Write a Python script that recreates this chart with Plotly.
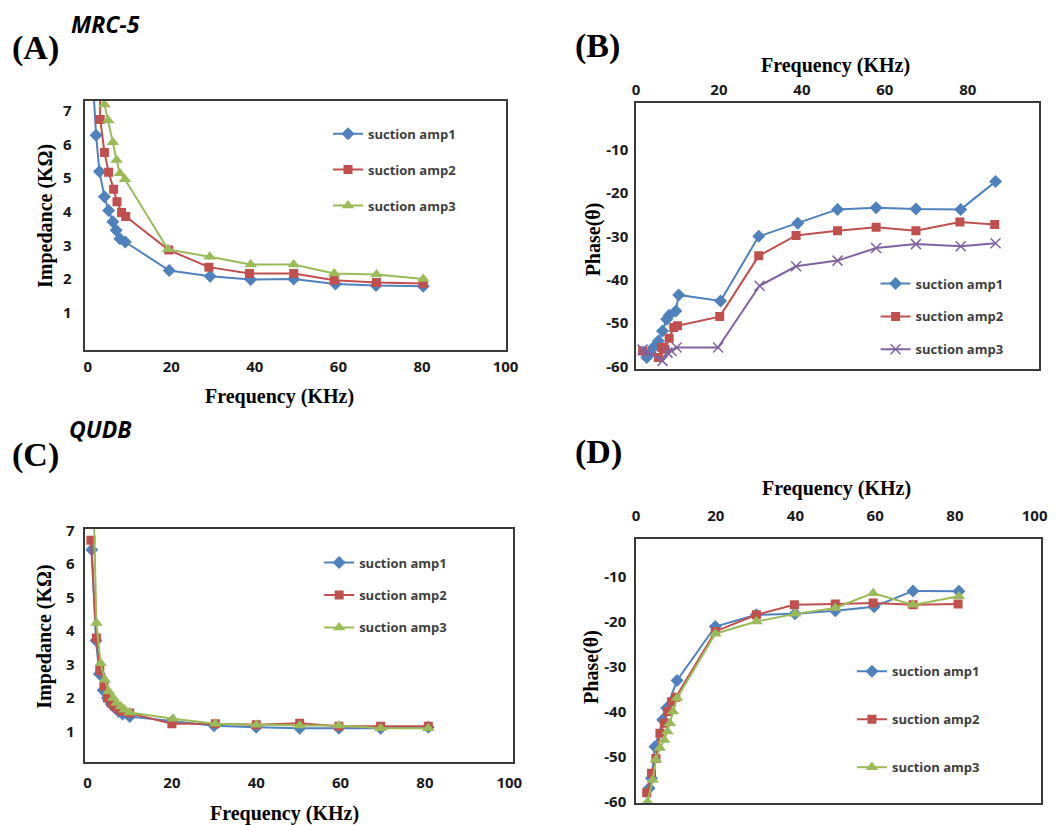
import plotly.graph_objects as go

W, H = 1056, 825
# measured screen = SX*page + CX (horizontal), SY*page + CY (vertical); positions below are
# given in reference-image pixels and converted back to page pixels
SX, CX = 0.988, 2.0
SY, CY = 0.978, 10.1

# ---------------- data ----------------
# (A) MRC-5 impedance
a_freq1 = [1.3, 2, 2.8, 4, 5, 6, 6.8, 7.7, 9, 19.5, 29.3, 39, 49.3, 59.3, 69, 80.3]
a_imp1 = [7.8, 6.28, 5.2, 4.45, 4.04, 3.7, 3.45, 3.2, 3.1, 2.25, 2.08, 1.98, 2.0, 1.85, 1.8, 1.78]
a_freq2 = [2.9, 3.0, 4.0, 5.0, 6.2, 7.0, 8.1, 9.1, 19.4, 29, 38.7, 49.3, 59, 69.1, 80.3]
a_imp2 = [8.0, 6.75, 5.77, 5.18, 4.67, 4.3, 3.98, 3.86, 2.86, 2.35, 2.16, 2.16, 1.96, 1.89, 1.86]
a_freq3 = [4.0, 4.9, 6.0, 6.9, 7.7, 8.9, 19.2, 29.2, 39, 49.3, 59, 69.1, 80.3]
a_imp3 = [7.2, 6.73, 6.07, 5.54, 5.15, 4.97, 2.88, 2.66, 2.43, 2.43, 2.16, 2.13, 2.0]

# (B) MRC-5 phase
b_freq1 = [2.6, 3.4, 4.2, 5.4, 6.4, 7.4, 8.0, 9.6, 10.3, 20.4, 29.6, 39, 48.6, 57.9, 67.5, 78.3, 86.7]
b_ph1 = [-57.9, -56.8, -55.6, -54.1, -51.8, -49.1, -48.2, -47.2, -43.5, -44.9, -30.0, -27.0, -23.8, -23.4, -23.7, -23.8, -17.4]
b_freq2 = [1.6, 5.4, 6.2, 7.0, 8.0, 9.1, 10.0, 20.2, 29.6, 38.6, 48.6, 57.9, 67.5, 78.1, 86.5]
b_ph2 = [-56.4, -57.9, -55.6, -56.0, -53.5, -51.0, -50.6, -48.5, -34.5, -29.8, -28.7, -27.9, -28.7, -26.7, -27.3]
b_freq3 = [1.6, 2.6, 6.4, 7.6, 8.6, 9.8, 19.8, 29.8, 38.6, 48.6, 57.9, 67.5, 78.3, 86.7]
b_ph3 = [-56.1, -56.5, -58.7, -56.8, -56.4, -55.6, -55.6, -41.4, -36.9, -35.6, -32.7, -31.8, -32.3, -31.6]

# (C) QUDB impedance
c_freq1 = [1, 2, 2.8, 3.7, 4.7, 5.6, 6.5, 7.4, 8.3, 10, 20, 30, 40, 50.3, 59.6, 69.5, 80.8]
c_imp1 = [6.43, 3.72, 2.72, 2.23, 2.0, 1.82, 1.7, 1.6, 1.52, 1.45, 1.3, 1.17, 1.13, 1.1, 1.1, 1.1, 1.13]
c_freq2 = [0.8, 2.1, 2.9, 3.9, 4.7, 5.6, 6.5, 7.4, 8.3, 10, 20, 30.3, 40, 50.3, 59.6, 69.5, 80.8]
c_imp2 = [6.71, 3.79, 2.82, 2.35, 2.0, 1.85, 1.75, 1.67, 1.6, 1.55, 1.23, 1.23, 1.2, 1.25, 1.16, 1.16, 1.16]
c_freq3 = [1.5, 2.1, 3.1, 4.1, 5.0, 6.1, 6.9, 7.9, 8.8, 10, 20.3, 30.3, 40, 50.3, 59.6, 69.5, 80.8]
c_imp3 = [7.5, 4.24, 3.04, 2.55, 2.2, 2.0, 1.85, 1.75, 1.65, 1.57, 1.38, 1.23, 1.2, 1.18, 1.18, 1.1, 1.1]

# (D) QUDB phase
d_freq1 = [3.3, 3.9, 4.75, 6.7, 7.7, 10.3, 19.9, 30.2, 39.9, 50, 59.75, 69.5, 81]
d_ph1 = [-57.0, -54.8, -47.8, -41.8, -39.2, -33.1, -21.1, -18.5, -18.3, -17.6, -16.7, -13.2, -13.3]
d_freq2 = [2.7, 3.9, 5.0, 6.0, 7.1, 7.9, 8.9, 10.0, 19.9, 30.2, 39.75, 50, 59.5, 69.5, 80.8]
d_ph2 = [-58.0, -53.7, -50.4, -44.8, -42.6, -40.0, -37.8, -36.8, -22.2, -18.5, -16.3, -16.1, -15.9, -16.3, -16.1]
d_freq3 = [2.9, 4.2, 5.0, 6.0, 7.1, 7.9, 8.5, 9.3, 10.3, 19.9, 30.2, 39.9, 50, 59.5, 69.5, 81]
d_ph3 = [-60.0, -55.2, -50.7, -48.1, -46.3, -44.4, -42.6, -40.0, -37.0, -22.7, -20.0, -18.3, -17.0, -13.7, -16.3, -14.4]

series_names = ["suction amp1", "suction amp2", "suction amp3"]
imp_ticks = [1, 2, 3, 4, 5, 6, 7]
phase_ticks = [-60, -50, -40, -30, -20, -10]
phase_labels = ["-60", "-50", "-40", "-30", "-20", "-10"]
freq_ticks = [0, 20, 40, 60, 80, 100]

BLUE, RED, GREEN, PURPLE = "#4F81BD", "#C0504D", "#9BBB59", "#8064A2"
TICKFONT = dict(family="Open Sans", size=15, color="#1a1a1a", weight="bold")
SERIF = "Liberation Serif"
AXCOL = "#3a3a3a"

fig = go.Figure()


def add(x, y, name, color, symbol, msize, xa, ya, legend, mline=None):
    marker = dict(symbol=symbol, size=msize, color=color)
    if mline:
        marker["line"] = dict(color=color, width=1.5)
    fig.add_trace(go.Scatter(
        x=x, y=y, name=name, mode="lines+markers",
        line=dict(color=color, width=2), marker=marker,
        xaxis=xa, yaxis=ya, legend=legend, legendgroup=legend + name,
    ))


add(a_freq1, a_imp1, series_names[0], BLUE, "diamond", 10, "x", "y", "legend")
add(a_freq2, a_imp2, series_names[1], RED, "square", 9, "x", "y", "legend")
add(a_freq3, a_imp3, series_names[2], GREEN, "triangle-up", 11, "x", "y", "legend")

add(b_freq1, b_ph1, series_names[0], BLUE, "diamond", 10, "x2", "y2", "legend2")
add(b_freq2, b_ph2, series_names[1], RED, "square", 9, "x2", "y2", "legend2")
add(b_freq3, b_ph3, series_names[2], PURPLE, "x-thin", 10, "x2", "y2", "legend2", mline=True)

add(c_freq1, c_imp1, series_names[0], BLUE, "diamond", 10, "x3", "y3", "legend3")
add(c_freq2, c_imp2, series_names[1], RED, "square", 9, "x3", "y3", "legend3")
add(c_freq3, c_imp3, series_names[2], GREEN, "triangle-up", 11, "x3", "y3", "legend3")

add(d_freq1, d_ph1, series_names[0], BLUE, "diamond", 10, "x4", "y4", "legend4")
add(d_freq2, d_ph2, series_names[1], RED, "square", 9, "x4", "y4", "legend4")
add(d_freq3, d_ph3, series_names[2], GREEN, "triangle-up", 11, "x4", "y4", "legend4")


def px_x(p):
    return ((p - CX) / SX) / W


def px_y(p):
    return 1 - ((p - CY) / SY) / H


def xax(dom, rng, side="bottom", anchor="y", standoff=8):
    return dict(domain=[px_x(dom[0]), px_x(dom[1])], range=rng, anchor=anchor, side=side,
                tickvals=freq_ticks, showgrid=False, zeroline=False, ticks="", ticklen=0,
                showline=True, linecolor=AXCOL, linewidth=1.5, mirror=True,
                tickfont=TICKFONT, ticklabelstandoff=standoff)


def yax(dom, rng, ticks, labels=None, anchor="x", standoff=10):
    d = dict(domain=[px_y(dom[1]), px_y(dom[0])], range=rng, anchor=anchor,
             tickvals=ticks, showgrid=False, zeroline=False, ticks="", ticklen=0,
             showline=True, linecolor=AXCOL, linewidth=1.5, mirror=True,
             tickfont=TICKFONT, ticklabelstandoff=standoff)
    if labels:
        d["ticktext"] = labels
    return d


legfont = dict(family="Open Sans", size=13, color="#404040", weight="bold")


def leg(xt, yt, gap):
    # xt, yt: legend top-left in page pixels
    return dict(x=xt / W, y=1 - yt / H, xanchor="left", yanchor="top",
                font=legfont, bgcolor="rgba(0,0,0,0)", tracegroupgap=gap,
                itemwidth=30)


fig.update_layout(
    width=W, height=H, margin=dict(l=0, r=0, t=0, b=0),
    paper_bgcolor="white", plot_bgcolor="white",
    xaxis=xax((83.7, 506), [-0.55, 100.2], anchor="y", standoff=2),
    yaxis=yax((102, 351), [-0.13, 7.3], imp_ticks, anchor="x", standoff=9),
    xaxis2=xax((636, 1040), [0, 97.1], side="top", anchor="y2", standoff=0),
    yaxis2=yax((104, 369.3), [-60.5, 0.7], phase_ticks, phase_labels, anchor="x2", standoff=3),
    xaxis3=xax((83.7, 512.7), [-0.5, 100.9], anchor="y3", standoff=7),
    yaxis3=yax((529.3, 761.7), [0.1, 7.05], imp_ticks, anchor="x3", standoff=6),
    xaxis4=xax((636, 1042.7), [0, 101.7], side="top", anchor="y4", standoff=10),
    yaxis4=yax((539, 803.3), [-60.36, -1.6], phase_ticks, phase_labels, anchor="x4", standoff=5),
    legend=leg(329, 112, 16),
    legend2=leg(885, 265, 13),
    legend3=leg(320, 550, 12.5),
    legend4=leg(861, 661, 28),
)

ann = []


def text(x, y, s, size, family=SERIF, xanchor="center"):
    ann.append(dict(x=px_x(x), y=px_y(y), xref="paper", yref="paper", text=s,
                    showarrow=False, xanchor=xanchor, yanchor="middle",
                    font=dict(family=family, size=size, color="black")))


def vtext(x, y, s, size):
    ann.append(dict(x=px_x(x), y=px_y(y), xref="paper", yref="paper", text=s,
                    showarrow=False, textangle=-90, xanchor="center", yanchor="middle",
                    font=dict(family=SERIF, size=size, color="black")))


# panel labels
text(8, 49, "<b>(A)</b>", 34, xanchor="left")
text(67, 25, "<b><i>MRC-5</i></b>", 23, family="Open Sans", xanchor="left")
text(573, 47, "<b>(B)</b>", 34, xanchor="left")
text(8, 455, "<b>(C)</b>", 34, xanchor="left")
text(65, 430, "<b><i>QUDB</i></b>", 23, family="Open Sans", xanchor="left")
text(573, 452, "<b>(D)</b>", 34, xanchor="left")

# axis titles
text(278, 397, "<b>Frequency (KHz)</b>", 20)
vtext(43, 217, "<b>Impedance (KΩ)</b>", 20)
text(836, 67, "<b>Frequency (KHz)</b>", 20)
vtext(593, 240, "<b>Phase(θ)</b>", 20)
text(283, 813, "<b>Frequency (KHz)</b>", 20)
vtext(43, 637, "<b>Impedance (KΩ)</b>", 20)
text(837, 489, "<b>Frequency (KHz)</b>", 20)
vtext(592, 667, "<b>Phase(θ)</b>", 20)

fig.update_layout(annotations=ann)

fig.write_html("out.html", config={"displayModeBar": False},
               post_script="document.body.style.margin='0';document.body.style.overflow='hidden';")
